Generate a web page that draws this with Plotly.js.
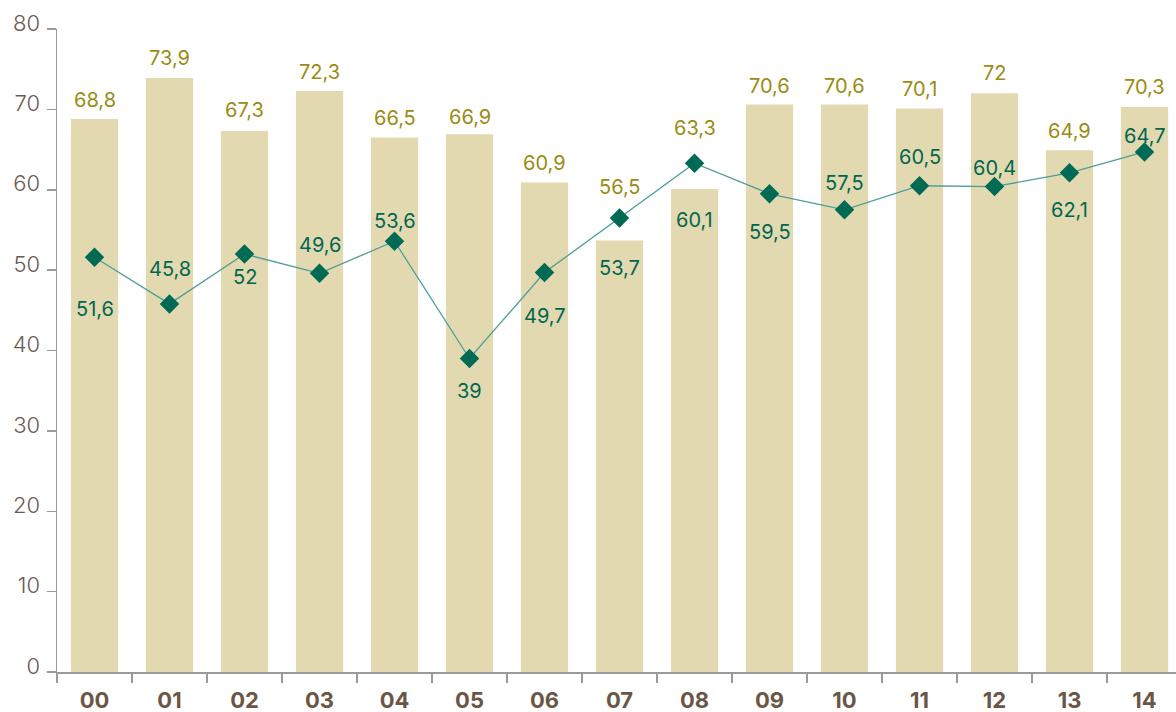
<!DOCTYPE html>
<html><head><meta charset="utf-8">
<script src="https://cdn.plot.ly/plotly-3.0.1.min.js"></script>
<style>html,body{margin:0;padding:0;overflow:hidden;background:#fff}</style>
</head><body>
<div id="chart" style="width:1176px;height:712px"></div>
<script>
const categories = ["00","01","02","03","04","05","06","07","08","09","10","11","12","13","14"];
const barValues = [68.8,73.9,67.3,72.3,66.5,66.9,60.9,53.7,60.1,70.6,70.6,70.1,72,64.9,70.3];
const lineValues = [51.6,45.8,52,49.6,53.6,39,49.7,56.5,63.3,59.5,57.5,60.5,60.4,62.1,64.7];
const yTicks = [0,10,20,30,40,50,60,70,80];

// label styling (offsets in px, colours) kept separate from data
const barLabelShift = [-19,-20,-21,-19,-20,-17,-20,28,31,-19,-19,-20,-20,-19,-20];
const lineLabelShift = [52,-35,23,-28,-20,32,43,-31,-35,38,-27,-29,-19,37,-16];
const OLIVE = "#9b8b12", GREEN = "#00664f";
const FONT = "Inter, 'Open Sans', sans-serif";
const barLabelColor = barValues.map((v,i)=> (i===7||i===8) ? GREEN : OLIVE);
const lineLabelColor = lineValues.map((v,i)=> (i===7||i===8) ? OLIVE : GREEN);
const fmt = v => String(v).replace(".", ",");

const annotations = [];
categories.forEach((c,i)=>{
  annotations.push({x:c, y:barValues[i], xref:"x", yref:"y", text:fmt(barValues[i]), showarrow:false,
    yshift:-barLabelShift[i], yanchor:"middle", font:{family:FONT, size:20, color:barLabelColor[i]}});
  annotations.push({x:c, y:lineValues[i], xref:"x", yref:"y", text:fmt(lineValues[i]), showarrow:false,
    yshift:-lineLabelShift[i], yanchor:"middle", font:{family:FONT, size:20, color:lineLabelColor[i]}});
});

const data = [
  {type:"bar", x:categories, y:barValues, width:0.63, marker:{color:"#e3d9b1"}, hoverinfo:"skip"},
  {type:"scatter", mode:"lines+markers", x:categories, y:lineValues,
   line:{color:"#4f9e96", width:1.3},
   marker:{symbol:"diamond", size:15, color:"#006a55"}, hoverinfo:"skip"}
];

const layout = {
  width:1176, height:712,
  margin:{l:57, r:0, t:29, b:40},
  showlegend:false,
  paper_bgcolor:"#fff", plot_bgcolor:"#fff",
  xaxis:{type:"category", range:[-0.5,14.42], showgrid:false, zeroline:false,
    showline:true, linecolor:"#9a9a9a", linewidth:1.5,
    ticks:"outside", tickson:"boundaries", ticklen:9, tickcolor:"#9a9a9a", tickwidth:1.5,
    ticklabelstandoff:8,
    tickfont:{family:FONT, size:22, color:"#6b5646", weight:"bold"}},
  yaxis:{range:[0,80], tickvals:yTicks, showgrid:false, zeroline:false,
    showline:true, linecolor:"#9a9a9a", linewidth:1.5,
    ticks:"outside", ticklen:9, tickcolor:"#9a9a9a", tickwidth:1.5,
    ticklabelstandoff:2, ticklabelshift:-6,
    tickfont:{family:FONT, size:22, color:"#6b5a50", weight:300}},
  annotations:annotations
};
Plotly.newPlot("chart", data, layout, {displayModeBar:false, staticPlot:true});
</script>
</body></html>
